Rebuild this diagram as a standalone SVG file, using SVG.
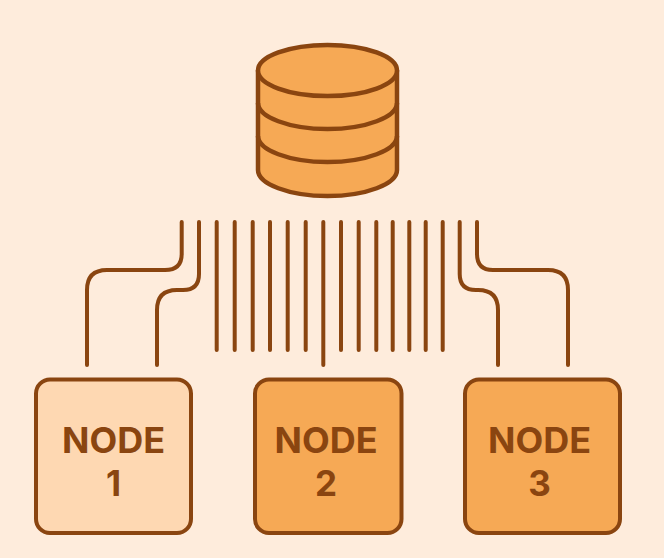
<svg xmlns="http://www.w3.org/2000/svg" width="664" height="558" viewBox="0 0 664 558">
<style>
.ln{fill:none;stroke:#8a4510;stroke-width:4;stroke-linecap:round;stroke-linejoin:round}
.box{stroke:#8a4510;stroke-width:4}
.cyl{fill:#f6a955;stroke:#8a4510;stroke-width:4.5;stroke-linejoin:round}
.lab{font-family:Inter,"Liberation Sans",sans-serif;font-weight:700;font-size:35px;fill:#8a4510;text-anchor:middle}
</style>
<rect width="664" height="558" fill="#feecdc"/>
<g id="connectors">
<path class="ln" d="M181.700 222V254Q181.700 270 165 270H107Q87 270 87 290V365"/>
<path class="ln" d="M199 222V274Q199 290 183 290H177Q157 290 157 310V365"/>
<path class="ln" d="M216.700 222V350M234.700 222V350M252.700 222V350M270 222V350M287.700 222V350M305.700 222V350"/>
<path class="ln" d="M323.300 222V365"/>
<path class="ln" d="M341 222V350M358.700 222V350M376.300 222V350M392.700 222V350M409.300 222V350M425.700 222V350M442.700 222V350"/>
<path class="ln" d="M459.700 222V274Q459.700 290 476 290H478Q498 290 498 310V365"/>
<path class="ln" d="M477 222V254Q477 270 493 270H548Q568 270 568 290V365"/>
</g>
<g id="database">
<path class="cyl" d="M258 70.500V170C258 184 289 196 327.500 196S397 184 397 170V70.500Z"/>
<path class="cyl" style="fill:none" d="M258 103C258 117 289 129 327.500 129S397 117 397 103M258 136C258 150 289 162 327.500 162S397 150 397 136"/>
<ellipse class="cyl" cx="327.500" cy="70.500" rx="69.500" ry="25.500"/>
</g>
<g id="node1">
<rect class="box" x="36" y="379.500" width="155" height="153.500" rx="14" fill="#fed8b2"/>
<text class="lab" x="113.500" y="453" textLength="103" lengthAdjust="spacingAndGlyphs">NODE</text>
<text class="lab" x="113.500" y="496">1</text>
</g>
<g id="node2">
<rect class="box" x="255" y="379.500" width="146.500" height="153.500" rx="14" fill="#f6a955"/>
<text class="lab" x="326" y="453" textLength="103" lengthAdjust="spacingAndGlyphs">NODE</text>
<text class="lab" x="326" y="496">2</text>
</g>
<g id="node3">
<rect class="box" x="465" y="379.500" width="155" height="153.500" rx="14" fill="#f6a955"/>
<text class="lab" x="539.500" y="453" textLength="103" lengthAdjust="spacingAndGlyphs">NODE</text>
<text class="lab" x="539.500" y="496">3</text>
</g>
</svg>
